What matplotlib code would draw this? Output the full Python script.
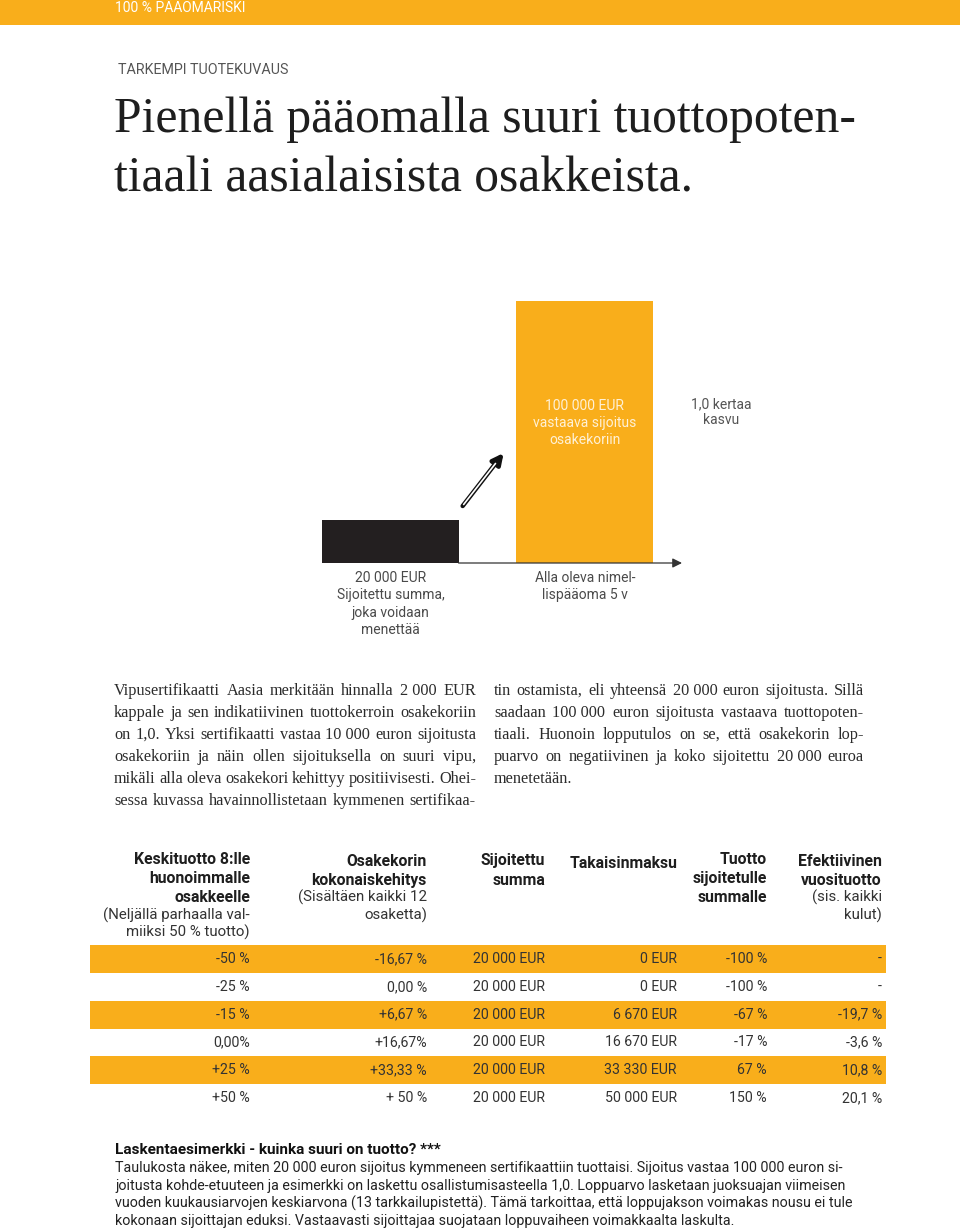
import matplotlib.pyplot as plt

# Colours of the page
ORANGE = "#F9AE1B"
DARK = "#231F20"
GREY = "#4A4A4A"
TXT = "#2B2B2B"

SANS = ["Roboto", "DejaVu Sans"]
SERIF = ["Liberation Serif", "DejaVu Serif"]

# Chart data (bar heights are as drawn in the picture, not to scale)
bar_names = ["sijoitettu", "osakekori"]
bar_heights = [43, 262]
bar_colors = [DARK, ORANGE]
bar_inside = ["", "100 000 EUR\nvastaava sijoitus\nosakekoriin"]
bar_below = ["20 000 EUR\nSijoitettu summa,\njoka voidaan\nmenettää",
             "Alla oleva nimel-\nlispääoma 5 v"]
growth_label = "1,0 kertaa\nkasvu"

# Text blocks
left_col = [
    "Vipusertifikaatti Aasia merkitään hinnalla 2\u00a0000 EUR",
    "kappale ja sen indikatiivinen tuottokerroin osakekoriin",
    "on 1,0. Yksi sertifikaatti vastaa 10\u00a0000 euron sijoitusta",
    "osakekoriin ja näin ollen sijoituksella on suuri vipu,",
    "mikäli alla oleva osakekori kehittyy positiivisesti. Ohei-",
    "sessa kuvassa havainnollistetaan kymmenen sertifikaa-",
]
right_col = [
    "tin ostamista, eli yhteensä 20\u00a0000 euron sijoitusta. Sillä",
    "saadaan 100\u00a0000 euron sijoitusta vastaava tuottopoten-",
    "tiaali. Huonoin lopputulos on se, että osakekorin lop-",
    "puarvo on negatiivinen ja koko sijoitettu 20\u00a0000 euroa",
    "menetetään.",
]

# Table
col_headers = [
    [("Keskituotto 8:lle", "bold"), ("huonoimmalle", "bold"), ("osakkeelle", "bold"),
     ("(Neljällä parhaalla val-", "normal"), ("miiksi 50 % tuotto)", "normal")],
    [("Osakekorin", "bold"), ("kokonaiskehitys", "bold"),
     ("(Sisältäen kaikki 12", "normal"), ("osaketta)", "normal")],
    [("Sijoitettu", "bold"), ("summa", "bold")],
    [("Takaisinmaksu", "bold")],
    [("Tuotto", "bold"), ("sijoitetulle", "bold"), ("summalle", "bold")],
    [("Efektiivinen", "bold"), ("vuosituotto", "bold"),
     ("(sis. kaikki", "normal"), ("kulut)", "normal")],
]
avg_return = ["-50 %", "-25 %", "-15 %", "0,00%", "+25 %", "+50 %"]
basket = ["-16,67 %", "0,00 %", "+6,67 %", "+16,67%", "+33,33 %", "+ 50 %"]
invested = ["20 000 EUR"] * 6
repayment = ["0 EUR", "0 EUR", "6 670 EUR", "16 670 EUR", "33 330 EUR", "50 000 EUR"]
ret_invested = ["-100 %", "-100 %", "-67 %", "-17 %", "67 %", "150 %"]
annual = ["-", "-", "-19,7 %", "-3,6 %", "10,8 %", "20,1 %"]
columns = [avg_return, basket, invested, repayment, ret_invested, annual]

note_title = "Laskentaesimerkki - kuinka suuri on tuotto? ***"
note_lines = [
    "Taulukosta näkee, miten 20 000 euron sijoitus kymmeneen sertifikaattiin tuottaisi. Sijoitus vastaa 100 000 euron si-",
    "joitusta kohde-etuuteen ja esimerkki on laskettu osallistumisasteella 1,0. Loppuarvo lasketaan juoksuajan viimeisen",
    "vuoden kuukausiarvojen keskiarvona (13 tarkkailupistettä). Tämä tarkoittaa, että loppujakson voimakas nousu ei tule",
    "kokonaan sijoittajan eduksi. Vastaavasti sijoittajaa suojataan loppuvaiheen voimakkaalta laskulta.",
]

W, H = 960, 1230
fig = plt.figure(figsize=(W / 100, H / 100), dpi=100)

# page layer in pixel units (y down)
page = fig.add_axes([0, 0, 1, 1])
page.set_xlim(0, W)
page.set_ylim(H, 0)
page.axis("off")

# header band
page.axhspan(0, 25, color=ORANGE, lw=0)
page.text(115, 8, "100 % PÄÄOMARISKI", color="white", fontsize=10,
          family=SANS, va="center")
page.text(118, 70, "TARKEMPI TUOTEKUVAUS", color="#555555", fontsize=10.3,
          family=SANS, va="center")
page.text(114, 132, "Pienellä pääomalla suuri tuottopoten-", fontsize=35.7,
          family=SERIF, color="#1E1E1E", va="baseline")
page.text(114, 192, "tiaali aasialaisista osakkeista.", fontsize=35.7,
          family=SERIF, color="#1E1E1E", va="baseline")

# bar chart
ax = fig.add_axes([322 / W, (H - 563) / H, 360 / W, 262 / H])
ax.bar(range(len(bar_names)), bar_heights, width=0.706, color=bar_colors)
ax.set_xlim(-0.353, 1.5)
ax.set_ylim(0, bar_heights[1])
ax.axis("off")
ax.annotate("", xy=(1.5, 0), xytext=(0.35, 0),
            arrowprops=dict(arrowstyle="-|>", color="#333333", lw=0.9,
                            mutation_scale=14, shrinkA=0, shrinkB=0),
            annotation_clip=False)
ax.text(1, 140, bar_inside[1], color="#FFF1D6", fontsize=10,
        family=SANS, ha="center", va="center", linespacing=1.3)
ax.text(1.7, 151, growth_label, color="#555555", fontsize=10,
        family=SANS, ha="center", va="center", linespacing=1.15,
        clip_on=False)
for i, lab in enumerate(bar_below):
    ax.text(i, -8, lab, color=GREY, fontsize=10, family=SANS, ha="center",
            va="top", linespacing=1.3, clip_on=False)

# hollow double-line arrow between the bars
ax.annotate("", xy=(0.582, 110), xytext=(0.371, 57),
            arrowprops=dict(arrowstyle="-|>", color="#111111", lw=3.2,
                            mutation_scale=16, shrinkA=0, shrinkB=0),
            annotation_clip=False)
ax.annotate("", xy=(0.54, 99.5), xytext=(0.376, 58.5),
            arrowprops=dict(arrowstyle="-", color="white", lw=1.2,
                            shrinkA=0, shrinkB=0),
            annotation_clip=False)

# justified paragraph text
fig.canvas.draw()
rend = fig.canvas.get_renderer()


def justify(line, x0, x1, y, stretch=True, size=11.7):
    words = line.split(" ")
    items = [page.text(0, y, w, fontsize=size, family=SERIF, color=TXT,
                       va="baseline", ha="left") for w in words]
    widths = [t.get_window_extent(rend).width for t in items]
    gap = size * 0.25 * 100 / 72
    if stretch and len(words) > 1:
        gap = max(2.5, (x1 - x0 - sum(widths)) / (len(words) - 1))
    x = x0
    for t, w in zip(items, widths):
        t.set_x(x)
        x += w + gap


for i, line in enumerate(left_col):
    justify(line, 114, 476, 695 + i * 22)
for i, line in enumerate(right_col):
    justify(line, 494, 864, 695 + i * 22, stretch=i < len(right_col) - 1)

# table header
col_right = [250, 427, 545, 677, 767, 882]
head_top = [859, 861, 861, 863, 859, 861]
for c, lines in enumerate(col_headers):
    y = head_top[c]
    for j, (txt, wt) in enumerate(lines):
        if j > 0:
            y += 19.5 if wt == "bold" else (17 if lines[j - 1][1] == "bold" else 17.5)
        page.text(col_right[c], y, txt, fontsize=11.3 if wt == "bold" else 10.8,
                  fontweight=wt, family=SANS,
                  color="#1E1E1E" if wt == "bold" else "#333333",
                  ha="right", va="center")

# table rows
row_h = 27.8
first_row = 959
for r in range(len(avg_return)):
    yc = first_row + r * row_h
    if r % 2 == 0:
        page.fill_between([90, 886], yc - row_h / 2, yc + row_h / 2,
                          color=ORANGE, lw=0)
    for c, col in enumerate(columns):
        page.text(col_right[c], yc, col[r], fontsize=10.2, family=SANS,
                  color="#333333", ha="right", va="center")

# note below the table
page.text(115, 1150, note_title, fontsize=11, fontweight="bold", family=SANS,
          color="#111111", va="center")
for i, line in enumerate(note_lines):
    page.text(115, 1168 + i * 17.7, line, fontsize=10.3, family=SANS,
              color="#222222", va="center")

fig.savefig("out.png", dpi=100)
